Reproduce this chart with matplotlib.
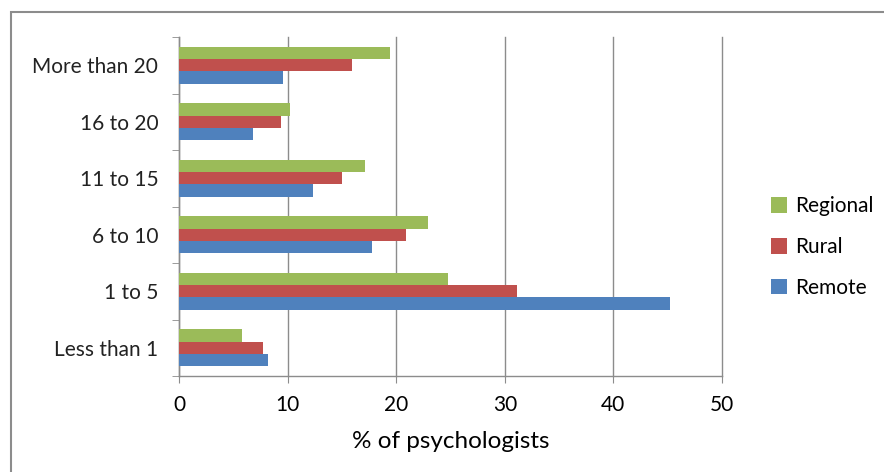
import numpy as np
import matplotlib
matplotlib.use("Agg")
import matplotlib.pyplot as plt
from matplotlib.patches import Rectangle

# data
categories = ["Less than 1", "1 to 5", "6 to 10", "11 to 15", "16 to 20", "More than 20"]
remote = [8.2, 45.2, 17.8, 12.3, 6.8, 9.6]
rural = [7.7, 31.1, 20.9, 15.0, 9.4, 15.9]
regional = [5.8, 24.8, 22.9, 17.1, 10.2, 19.4]

c_remote = "#4F81BD"
c_rural = "#C0504D"
c_regional = "#9BBB59"

plt.rcParams['font.family'] = ['Lato', 'DejaVu Sans']

fig = plt.figure(figsize=(8.84, 4.72), dpi=100)
ax = fig.add_axes([179/884, 1 - 376/472, (722 - 179)/884, (376 - 37)/472])

# outer chart border (cut off at right/bottom like the reference)
fig.patches.append(Rectangle((11/884, -0.1), 1.2, 1 - 12/472 + 0.1,
                             transform=fig.transFigure, fill=False,
                             edgecolor="#8c8c8c", linewidth=1.5))

y = np.arange(len(categories))
h = 0.22
ax.barh(y - h, remote, h, color=c_remote, label="Remote", zorder=3)
ax.barh(y, rural, h, color=c_rural, label="Rural", zorder=3)
ax.barh(y + h, regional, h, color=c_regional, label="Regional", zorder=3)

ax.set_xlim(0, 50)
ax.set_ylim(-0.5, len(categories) - 0.5)
ax.set_xticks(np.arange(0, 51, 10))
ax.set_yticks(y)
ax.set_yticklabels(categories)
ax.set_yticks(np.arange(-0.5, len(categories)), minor=True)
ax.tick_params(axis="y", which="major", length=0, pad=15, labelsize=15, colors="#222222")
ax.tick_params(axis="y", which="minor", length=5, color="#8c8c8c", direction="out")
ax.tick_params(axis="x", length=5, color="#8c8c8c", direction="out", labelsize=15, pad=9)

ax.grid(axis="x", color="#8c8c8c", linewidth=1, zorder=0)
for gl in ax.get_xgridlines():
    gl.set_clip_on(False)
for s in ["top", "right"]:
    ax.spines[s].set_visible(False)
for s in ["left", "bottom"]:
    ax.spines[s].set_color("#8c8c8c")
    ax.spines[s].set_linewidth(1)

ax.set_xlabel("% of psychologists", fontsize=17.5, labelpad=11)

handles, labels = ax.get_legend_handles_labels()
ax.legend(handles[::-1], labels[::-1], loc="center left", bbox_to_anchor=(1.075, 0.38),
          frameon=False, fontsize=15, handlelength=0.75, handleheight=0.75,
          handletextpad=0.4, labelspacing=1.0, borderaxespad=0)

fig.savefig("out.png", dpi=100)
